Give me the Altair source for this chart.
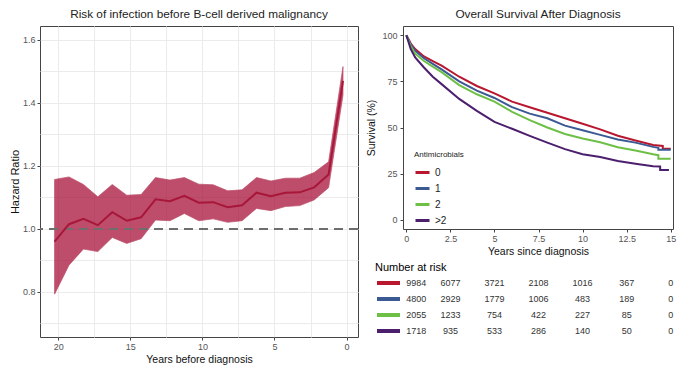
import altair as alt
import pandas as pd

FONT = "Liberation Sans"

# ---------------- Left panel: hazard ratio before diagnosis ----------------
years_before = [20.25, 19.25, 18.25, 17.25, 16.25, 15.25, 14.25, 13.25, 12.25, 11.25,
                10.25, 9.25, 8.25, 7.25, 6.25, 5.25, 4.25, 3.25, 2.25, 1.25, 0.25]
hr = [0.960, 1.015, 1.032, 1.012, 1.053, 1.026, 1.037, 1.094, 1.088, 1.105,
      1.083, 1.085, 1.069, 1.075, 1.115, 1.104, 1.115, 1.116, 1.132, 1.173, 1.470]
hr_upper = [1.157, 1.165, 1.141, 1.102, 1.141, 1.107, 1.109, 1.163, 1.155, 1.163,
            1.142, 1.140, 1.121, 1.124, 1.163, 1.152, 1.161, 1.161, 1.179, 1.213, 1.515]
hr_lower = [0.793, 0.885, 0.936, 0.928, 0.973, 0.954, 0.969, 1.028, 1.026, 1.049,
            1.026, 1.032, 1.021, 1.026, 1.065, 1.058, 1.071, 1.074, 1.092, 1.131, 1.425]
ref_value = [1.0]

x_major_left = [0, 5, 10, 15, 20]
x_minor_left = [2.5, 7.5, 12.5, 17.5]
y_major_left = [0.8, 1.0, 1.2, 1.4, 1.6]
y_minor_left = [0.7, 0.9, 1.1, 1.3, 1.5]

# ---------------- Right panel: survival curves ----------------
groups = ["0", "1", "2", ">2"]
group_colors = ["#B8172F", "#3B5A94", "#6EBF45", "#4C1F6E"]

t0 = [0, 0.25, 0.5, 1, 1.5, 2, 3, 4, 5, 6, 7, 8, 9, 10, 11, 12, 13, 14, 14.55, 14.55, 15]
s0 = [100, 95.5, 92.5, 88.5, 86, 83.5, 77.5, 72.5, 68.5, 64, 61, 58, 55, 52, 49, 45.5, 43, 40.5, 40, 38.5, 38.5]

t1 = [0, 0.25, 0.5, 1, 1.5, 2, 3, 4, 5, 6, 7, 8, 9, 10, 11, 12, 13, 14, 14.3, 14.3, 15]
s1 = [100, 95, 91.5, 87.5, 84.5, 81.5, 75, 70, 66, 61, 57.5, 55, 51, 48.5, 46, 43.5, 41.8, 39.5, 39, 38, 38]

t2 = [0, 0.25, 0.5, 1, 1.5, 2, 3, 4, 5, 6, 7, 8, 9, 10, 11, 12, 13, 14, 14.3, 14.3, 15]
s2 = [100, 94, 90, 86, 83, 80, 73, 68, 64, 58.5, 54, 50, 46.5, 44, 42, 39.3, 37.5, 35.5, 35, 33, 33]

t3 = [0, 0.25, 0.5, 1, 1.5, 2, 3, 4, 5, 6, 7, 8, 9, 10, 11, 12, 13, 14, 14.4, 14.4, 14.9]
s3 = [100, 92.5, 88, 82.5, 77.5, 73.5, 65.5, 59, 53, 49.3, 45.5, 41.8, 38.3, 35.5, 34, 31.8, 30.3, 29, 28.9, 27, 27]

x_ticks_right = [0, 2.5, 5, 7.5, 10, 12.5, 15]
y_ticks_right = [0, 25, 50, 75, 100]

# ---------------- Number at risk table ----------------
risk_times = [0, 2.5, 5, 7.5, 10, 12.5, 15]
risk_0 = [9984, 6077, 3721, 2108, 1016, 367, 0]
risk_1 = [4800, 2929, 1779, 1006, 483, 189, 0]
risk_2 = [2055, 1233, 754, 422, 227, 85, 0]
risk_3 = [1718, 935, 533, 286, 140, 50, 0]

# ---------------- build tables ----------------
hr_df = pd.DataFrame({"years": years_before, "hr": hr, "lo": hr_lower, "hi": hr_upper})
ref_df = pd.DataFrame({"y": ref_value})

rows = []
for g, ts, ss in zip(groups, [t0, t1, t2, t3], [s0, s1, s2, s3]):
    for i, (t, s) in enumerate(zip(ts, ss)):
        rows.append({"group": g, "time": t, "surv": s, "idx": i})
surv_df = pd.DataFrame(rows)

rrows = []
for g, ns in zip(groups, [risk_0, risk_1, risk_2, risk_3]):
    for t, n in zip(risk_times, ns):
        rrows.append({"group": g, "time": t, "n": n})
risk_df = pd.DataFrame(rrows)
swatch_df = pd.DataFrame({"group": groups})

RED_LINE = "#A8173A"
RED_FILL = "#A8123A"
GRID = "#EBEBEB"

xscale_l = alt.Scale(domain=[-0.79, 21.26], reverse=True, nice=False, zero=False)
yscale_l = alt.Scale(domain=[0.657, 1.644], nice=False, zero=False)

# minor grid (separate top/right axes, no labels)
minor = alt.Chart(hr_df).mark_line(opacity=0).encode(
    x=alt.X("years:Q", scale=xscale_l,
            axis=alt.Axis(orient="top", values=x_minor_left, labels=False, ticks=False,
                          domain=False, grid=True, gridColor=GRID, title=None)),
    y=alt.Y("hr:Q", scale=yscale_l,
            axis=alt.Axis(orient="right", values=y_minor_left, labels=False, ticks=False,
                          domain=False, grid=True, gridColor=GRID, title=None)),
)
band = alt.Chart(hr_df).mark_area(color=RED_FILL, opacity=0.75, stroke=RED_LINE,
                                  strokeWidth=0.8, strokeOpacity=0.9).encode(
    x=alt.X("years:Q", scale=xscale_l,
            axis=alt.Axis(values=x_major_left, title="Years before diagnosis", format="d",
                          grid=True, gridColor=GRID, titleFontSize=10.5)),
    y=alt.Y("lo:Q", scale=yscale_l,
            axis=alt.Axis(values=y_major_left, title="Hazard Ratio", format=".1f",
                          grid=True, gridColor=GRID, titleFontSize=11, titlePadding=2)),
    y2="hi:Q",
)
mid = alt.Chart(hr_df).mark_line(color=RED_LINE, strokeWidth=2).encode(
    x=alt.X("years:Q", scale=xscale_l), y=alt.Y("hr:Q", scale=yscale_l))
ref = alt.Chart(ref_df).mark_rule(color="#6E6E6E", strokeWidth=2, strokeDash=[9, 6]).encode(
    y=alt.Y("y:Q", scale=yscale_l))

left = alt.layer(minor, alt.layer(band, ref, mid)).resolve_axis(
    x="independent", y="independent"
).properties(
    width=318, height=311,
    title=alt.TitleParams("Risk of infection before B-cell derived malignancy"),
)

# ---------------- survival chart ----------------
xscale_r = alt.Scale(domain=[-0.19, 15.13], nice=False, zero=False)
surv = alt.Chart(surv_df).mark_line(strokeWidth=2).encode(
    x=alt.X("time:Q", scale=xscale_r,
            axis=alt.Axis(values=x_ticks_right, title="Years since diagnosis", format=".1~f",
                          grid=False, titleFontSize=10.5)),
    y=alt.Y("surv:Q", scale=alt.Scale(domain=[-5, 105], nice=False, zero=False),
            axis=alt.Axis(values=y_ticks_right, title="Survival (%)", format="d", grid=False,
                          titleFontSize=10.5, labelPadding=3, titlePadding=5)),
    color=alt.Color("group:N", scale=alt.Scale(domain=groups, range=group_colors),
                    legend=alt.Legend(title="Antimicrobials", orient="none", legendX=374, legendY=125,
                                      titleFontSize=8, titleFontWeight="normal", titleColor="#222",
                                      labelFontSize=10, labelColor="#222", symbolType="stroke",
                                      symbolStrokeWidth=3, symbolSize=196, rowPadding=1,
                                      titlePadding=5)),
    order=alt.Order("idx:Q"),
).properties(width=270, height=203,
             title=alt.TitleParams("Overall Survival After Diagnosis"))

# ---------------- risk table ----------------
ytab = alt.Y("group:N", sort=groups, axis=None,
             scale=alt.Scale(domain=groups, paddingInner=0, paddingOuter=0))
txt_first = alt.Chart(risk_df).transform_filter("datum.time == 0").mark_text(
    fontSize=9, color="#333", align="left", font=FONT).encode(
    x=alt.X("time:Q", scale=xscale_r, axis=None), y=ytab, text="n:Q")
txt_rest = alt.Chart(risk_df).transform_filter("datum.time > 0").mark_text(
    fontSize=9, color="#333", align="center", font=FONT).encode(
    x=alt.X("time:Q", scale=xscale_r, axis=None), y=ytab, text="n:Q")
swatch = alt.Chart(swatch_df).mark_rule(strokeWidth=4).encode(
    x=alt.value(-26), x2=alt.value(-3), y=ytab,
    color=alt.Color("group:N", scale=alt.Scale(domain=groups, range=group_colors), legend=None))
table = alt.layer(swatch, txt_first, txt_rest).properties(
    width=270, height=64,
    view=alt.ViewBackground(strokeOpacity=0),
    title=alt.TitleParams("Number at risk", anchor="start", fontSize=11,
                          color="black", offset=2),
)

right = alt.vconcat(surv, table, spacing=5)
chart = alt.hconcat(alt.vconcat(left), right, spacing=6).properties(padding=0).configure_view(
    stroke="#444", strokeWidth=1
).configure_axis(
    labelFont=FONT, titleFont=FONT, labelFontSize=9, labelColor="#555",
    titleFontSize=11, titleFontWeight="normal", titleColor="#111",
    tickColor="#444", tickSize=3, domain=False, labelPadding=2, titlePadding=3,
).configure_title(
    font=FONT, fontSize=11.8, fontWeight="normal", color="#222", anchor="middle", offset=5
).configure_legend(labelFont=FONT, titleFont=FONT)

chart.save("out.html", embed_options={"renderer": "svg", "actions": False})
